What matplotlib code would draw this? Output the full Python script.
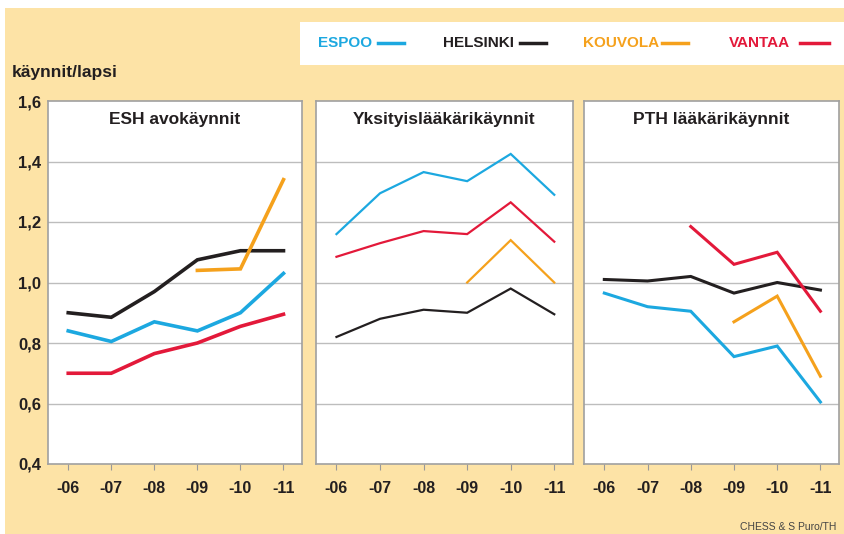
import matplotlib
matplotlib.use("Agg")
import matplotlib.pyplot as plt
from matplotlib.patches import Rectangle
from matplotlib.lines import Line2D
import numpy as np

plt.rcParams['font.family'] = ['Liberation Sans', 'DejaVu Sans']

years = ["-06", "-07", "-08", "-09", "-10", "-11"]
titles = ["ESH avokäynnit", "Yksityislääkärikäynnit", "PTH lääkärikäynnit"]
cities = ["ESPOO", "HELSINKI", "KOUVOLA", "VANTAA"]
colors = {"ESPOO": "#1CA8E0", "HELSINKI": "#231F20", "KOUVOLA": "#F5A11C", "VANTAA": "#E3193A"}

nan = np.nan
esh = {
    "HELSINKI": [0.90, 0.885, 0.97, 1.075, 1.105, 1.105],
    "ESPOO": [0.84, 0.805, 0.87, 0.84, 0.90, 1.03],
    "VANTAA": [0.70, 0.70, 0.765, 0.80, 0.855, 0.895],
    "KOUVOLA": [nan, nan, nan, 1.04, 1.045, 1.34],
}
yks = {
    "HELSINKI": [0.82, 0.88, 0.91, 0.90, 0.98, 0.895],
    "ESPOO": [1.16, 1.295, 1.365, 1.335, 1.425, 1.29],
    "VANTAA": [1.085, 1.13, 1.17, 1.16, 1.265, 1.135],
    "KOUVOLA": [nan, nan, nan, 1.0, 1.14, 1.0],
}
pth = {
    "HELSINKI": [1.01, 1.005, 1.02, 0.965, 1.0, 0.975],
    "ESPOO": [0.965, 0.92, 0.905, 0.755, 0.79, 0.605],
    "VANTAA": [nan, nan, 1.185, 1.06, 1.10, 0.905],
    "KOUVOLA": [nan, nan, nan, 0.87, 0.955, 0.69],
}
panels = [esh, yks, pth]
widths = [2.6, 1.6, 2.2]
yticks = [0.4, 0.6, 0.8, 1.0, 1.2, 1.4, 1.6]
ylabels = ["0,4", "0,6", "0,8", "1,0", "1,2", "1,4", "1,6"]

W, H = 844, 534
fig = plt.figure(figsize=(W / 100, H / 100), dpi=100)
fig.patch.set_facecolor("white")
fig.patches.append(Rectangle((5 / W, 0), 1, 1 - 8 / H, transform=fig.transFigure,
                             facecolor="#FDE3A6", edgecolor="none", zorder=-10))

# legend box
fig.patches.append(Rectangle((300 / W, 1 - 65 / H), 1, 43 / H, transform=fig.transFigure,
                             facecolor="white", edgecolor="none", zorder=-5))
leg_x = [(372, 378, 404), (514, 520, 546), (659, 662, 688), (790, 800, 829)]
for c, (tx, l0, l1) in zip(cities, leg_x):
    fig.text(tx / W, 1 - 43 / H, c, color=colors[c], fontsize=11, fontweight="bold",
             va="center", ha="right")
    fig.lines.append(Line2D([l0 / W, l1 / W], [1 - 43 / H, 1 - 43 / H], transform=fig.transFigure,
                            color=colors[c], lw=2.5))

fig.text(12 / W, 1 - 72 / H, "käynnit/lapsi", fontsize=12.5, fontweight="bold", va="center", ha="left",
         color="#231F20")
fig.text(740 / W, 1 - 527 / H, "CHESS & S Puro/TH", fontsize=7.5, va="center", ha="left", color="#444")

edges = [(48, 302), (316, 573), (584, 839)]
top, bot = 101, 464
for i, ((x0, x1), data) in enumerate(zip(edges, panels)):
    ax = fig.add_axes([x0 / W, 1 - bot / H, (x1 - x0) / W, (bot - top) / H])
    ax.set_facecolor("white")
    ax.set_ylim(0.4, 1.6)
    ax.set_xlim(-0.47, 5.43)
    for y in yticks[1:-1]:
        ax.axhline(y, color="#BDBDBD", lw=1.0, zorder=1)
    for c in ["HELSINKI", "ESPOO", "KOUVOLA", "VANTAA"]:
        ax.plot(range(len(years)), data[c], color=colors[c], lw=widths[i], zorder=3,
                solid_joinstyle="miter")
    ax.set_xticks(range(len(years)))
    ax.set_xticklabels(years, fontsize=11.5, fontweight="bold", color="#231F20")
    ax.tick_params(axis="x", length=4, color="#999999", pad=8)
    if i == 0:
        ax.set_yticks(yticks)
        ax.set_yticklabels(ylabels, fontsize=12, fontweight="bold", color="#231F20")
        ax.tick_params(axis="y", length=0, pad=5)
    else:
        ax.set_yticks([])
    for s in ax.spines.values():
        s.set_color("#A0A0A0")
        s.set_linewidth(1.2)
    ax.text(0.5, 0.95, titles[i], transform=ax.transAxes, ha="center", va="center",
            fontsize=12.5, fontweight="bold", color="#231F20")

fig.savefig("out.png", dpi=100, facecolor=fig.get_facecolor())
